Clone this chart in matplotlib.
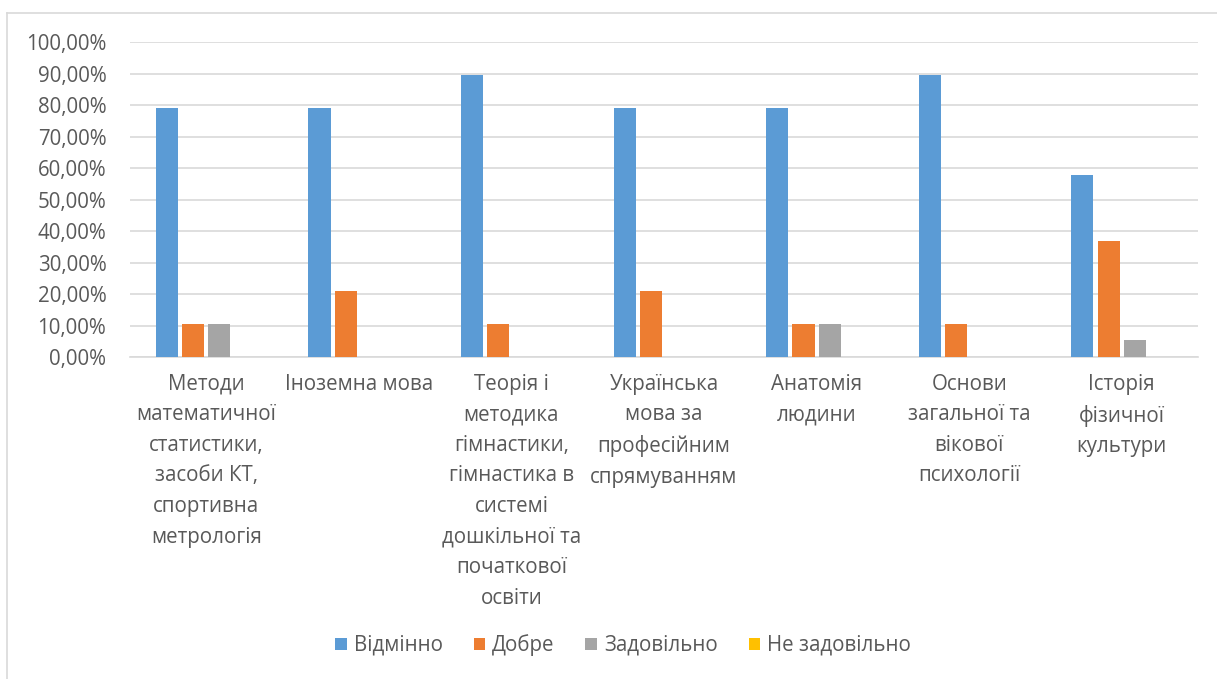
import numpy as np
import matplotlib
matplotlib.use('Agg')
import matplotlib.pyplot as plt
from matplotlib.patches import Patch
from matplotlib.ticker import FuncFormatter

plt.rcParams['font.family'] = ['Open Sans', 'DejaVu Sans']

# Дані (частка студентів, %)
subjects = [
    "Методи\nматематичної\nстатистики,\nзасоби КТ,\nспортивна\nметрологія",
    "Іноземна мова",
    "Теорія і\nметодика\nгімнастики,\nгімнастика в\nсистемі\nдошкільної та\nпочаткової\nосвіти",
    "Українська\nмова за\nпрофесійним\nспрямуванням",
    "Анатомія\nлюдини",
    "Основи\nзагальної та\nвікової\nпсихології",
    "Історія\nфізичної\nкультури",
]
series_names = ["Відмінно", "Добре", "Задовільно", "Не задовільно"]
vidminno = [78.95, 78.95, 89.47, 78.95, 78.95, 89.47, 57.89]
dobre = [10.53, 21.05, 10.53, 21.05, 10.53, 10.53, 36.84]
zadovilno = [10.53, 0, 0, 0, 10.53, 0, 5.26]
ne_zadovilno = [0, 0, 0, 0, 0, 0, 0]

colors = ['#5B9BD5', '#ED7D31', '#A5A5A5', '#FFC000']
txt = '#595959'
fs = 14.8

fig = plt.figure(figsize=(12.17, 6.79), dpi=100)
ax = fig.add_axes([0.1068, 0.4742, 0.8776, 0.4639])

x = np.arange(len(subjects))
step = 0.172
width = 0.145
all_series = [vidminno, dobre, zadovilno, ne_zadovilno]
for i, vals in enumerate(all_series):
    ax.bar(x + (i - 1.5) * step, vals, width, color=colors[i], zorder=3)

ax.set_xlim(-0.5, len(subjects) - 0.5)
ax.set_ylim(0, 100)
ax.set_yticks(np.arange(0, 101, 10))
ax.yaxis.set_major_formatter(FuncFormatter(lambda v, p: ('%.2f%%' % v).replace('.', ',')))
ax.grid(axis='y', color='#D9D9D9', linewidth=1.2, zorder=0)
for s in ['top', 'right', 'left']:
    ax.spines[s].set_visible(False)
ax.spines['bottom'].set_color('#D9D9D9')
ax.spines['bottom'].set_linewidth(1.2)
ax.tick_params(axis='both', length=0, labelsize=fs, labelcolor=txt)
ax.tick_params(axis='y', pad=17)
ax.tick_params(axis='x', pad=12)
ax.set_xticks(x)
ax.set_xticklabels(subjects, linespacing=1.6, multialignment='center')

handles = [Patch(facecolor=c, label=n) for c, n in zip(colors, series_names)]
fig.legend(handles=handles, loc='center', bbox_to_anchor=(0.512, 0.05), ncol=4,
           frameon=False, fontsize=fs, labelcolor=txt, handlelength=0.55,
           handleheight=0.55, handletextpad=0.35, columnspacing=1.5)

# рамка області діаграми
fig.add_artist(plt.Line2D([0.006, 0.006], [0, 0.981], color='#D9D9D9', lw=1.2))
fig.add_artist(plt.Line2D([0.006, 1], [0.981, 0.981], color='#D9D9D9', lw=1.2))

fig.savefig('out.png', dpi=100)
